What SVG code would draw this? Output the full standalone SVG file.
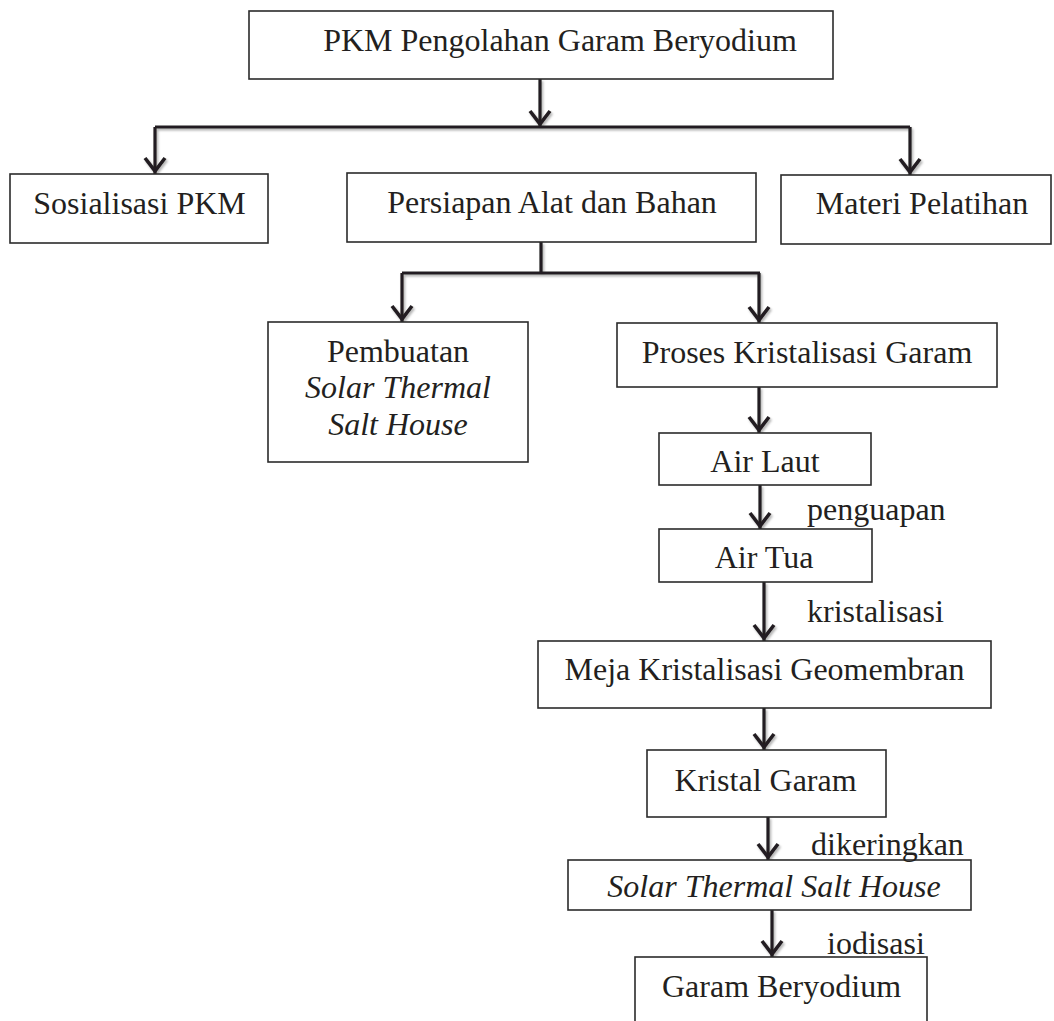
<svg xmlns="http://www.w3.org/2000/svg" width="1054" height="1021" viewBox="0 0 1054 1021">
<style>
.box{fill:#fff;stroke:#2b2b2b;stroke-width:1.6}
.t{font-family:"Liberation Serif","Times New Roman",serif;font-size:32px;fill:#231f20}
.m{text-anchor:middle}
.i{font-style:italic}
.c{fill:none;stroke:#231f20;stroke-width:3.2;stroke-linecap:butt}
</style>
<defs>
<filter id="sh" x="-20%" y="-20%" width="140%" height="140%">
<feDropShadow dx="1.5" dy="2" stdDeviation="1" flood-color="#000" flood-opacity="0.3"/>
</filter>
<marker id="arr" viewBox="-16 -14 20 28" refX="3" refY="0" markerWidth="20" markerHeight="28" markerUnits="userSpaceOnUse" orient="auto">
<path d="M-13,-10 L0,0 L-13,10" fill="none" stroke="#231f20" stroke-width="3.6" stroke-linejoin="miter"/>
</marker>
</defs>
<rect width="1054" height="1021" fill="#fff"/>
<g id="connectors" filter="url(#sh)">
<path class="c" d="M540,79 V127" marker-end="url(#arr)"/>
<path class="c" d="M155,127 H910"/>
<path class="c" d="M155,127 V174" marker-end="url(#arr)"/>
<path class="c" d="M910,127 V175" marker-end="url(#arr)"/>
<path class="c" d="M541,242 V273"/>
<path class="c" d="M402,273 H760"/>
<path class="c" d="M402,273 V322" marker-end="url(#arr)"/>
<path class="c" d="M759,273 V323" marker-end="url(#arr)"/>
<path class="c" d="M759,387 V433" marker-end="url(#arr)"/>
<path class="c" d="M760,485 V529" marker-end="url(#arr)"/>
<path class="c" d="M764,582 V641" marker-end="url(#arr)"/>
<path class="c" d="M764,708 V750" marker-end="url(#arr)"/>
<path class="c" d="M768,817 V860" marker-end="url(#arr)"/>
<path class="c" d="M772,910 V957" marker-end="url(#arr)"/>
</g>
<g id="n-pkm"><rect class="box" x="249" y="11" width="584" height="68"/><text class="t m" x="560" y="51">PKM Pengolahan Garam Beryodium</text></g>
<g id="n-sosialisasi"><rect class="box" x="10" y="174" width="258" height="69"/><text class="t m" x="139.5" y="214">Sosialisasi PKM</text></g>
<g id="n-persiapan"><rect class="box" x="347" y="173" width="409" height="69"/><text class="t m" x="552" y="213">Persiapan Alat dan Bahan</text></g>
<g id="n-materi"><rect class="box" x="781" y="175" width="270" height="69"/><text class="t m" x="922" y="214">Materi Pelatihan</text></g>
<g id="n-pembuatan"><rect class="box" x="268" y="322" width="260" height="140"/><text class="t m" x="398" y="362">Pembuatan</text><text class="t m i" x="398" y="398">Solar Thermal</text><text class="t m i" x="398" y="435">Salt House</text></g>
<g id="n-proses"><rect class="box" x="617" y="323" width="380" height="64"/><text class="t m" x="807" y="363">Proses Kristalisasi Garam</text></g>
<g id="n-airlaut"><rect class="box" x="659" y="433" width="212" height="52"/><text class="t m" x="765" y="472">Air Laut</text></g>
<g id="n-airtua"><rect class="box" x="659" y="529" width="213" height="53"/><text class="t m" x="764" y="568">Air Tua</text></g>
<g id="n-meja"><rect class="box" x="538" y="641" width="453" height="67"/><text class="t m" x="764.5" y="680">Meja Kristalisasi Geomembran</text></g>
<g id="n-kristal"><rect class="box" x="647" y="750" width="239" height="67"/><text class="t m" x="765.5" y="791">Kristal Garam</text></g>
<g id="n-solar"><rect class="box" x="568" y="860" width="403" height="50"/><text class="t m i" x="774" y="897">Solar Thermal Salt House</text></g>
<g id="n-garam"><rect class="box" x="635" y="957" width="292" height="80"/><text class="t m" x="781.5" y="997">Garam Beryodium</text></g>
<g id="labels">
<text class="t" x="807" y="520">penguapan</text>
<text class="t" x="807" y="622">kristalisasi</text>
<text class="t" x="811" y="855">dikeringkan</text>
<text class="t" x="827" y="954">iodisasi</text>
</g>
</svg>
